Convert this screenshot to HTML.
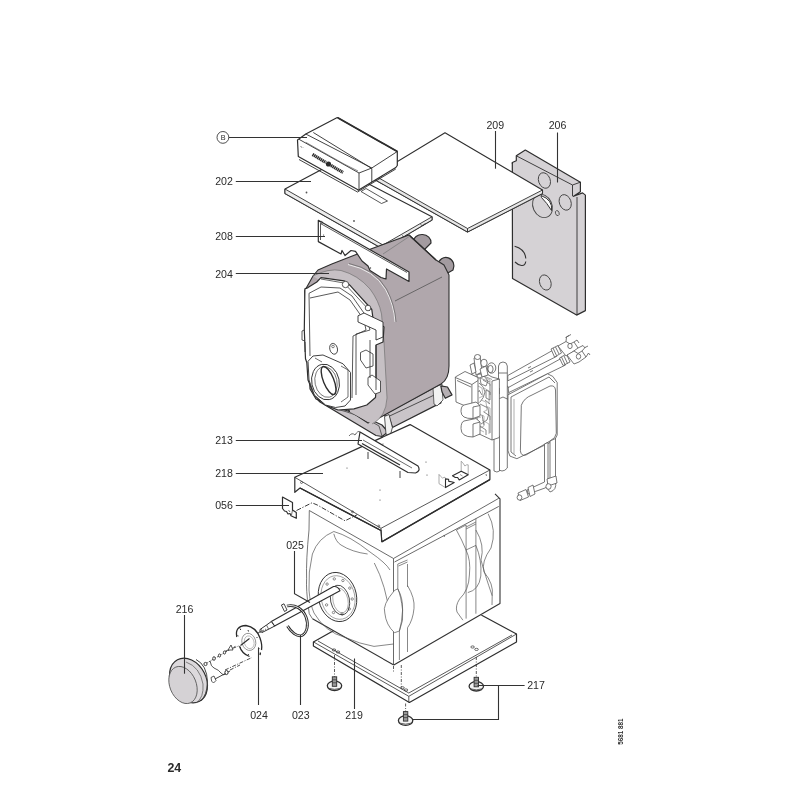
<!DOCTYPE html>
<html><head><meta charset="utf-8">
<style>
html,body{margin:0;padding:0;background:#fff;width:800px;height:800px;overflow:hidden}
svg{position:absolute;left:0;top:0;will-change:transform}
text{font-family:"Liberation Sans",sans-serif}
</style></head><body>
<svg width="800" height="800" viewBox="0 0 800 800">
<g id="p206" stroke="#2e2e2e" stroke-width="1.2" stroke-linejoin="round">
<path fill="#d5d2d5" d="M512.3 162.5L516.3 160.8L516.3 155.8L525.3 150.1L580.4 182.2L580.4 191.8L573.6 196.3L582.6 192.9L585.4 195.1L585.4 310.6L576.6 315.1L512.5 278.4Z"/>
<path fill="none" stroke-width="0.9" d="M516.3 155.8L572.5 185L580.4 182.2M572.5 185V196.3M577 197V315M512.3 162.5L512.3 164"/>
<ellipse cx="544.4" cy="180.5" rx="5.8" ry="8" fill="none" stroke="#444" stroke-width="0.9" transform="rotate(-20 544.4 180.5)"/>
<ellipse cx="565.2" cy="202.4" rx="5.8" ry="8" fill="none" stroke="#444" stroke-width="0.9" transform="rotate(-20 565.2 202.4)"/>
<ellipse cx="557.3" cy="213.1" rx="1.8" ry="2.6" fill="none" stroke="#444" stroke-width="0.8" transform="rotate(-20 557.3 213.1)"/>
<ellipse cx="542.5" cy="206" rx="9.5" ry="12" fill="none" stroke="#444" stroke-width="0.9" transform="rotate(-25 542.5 206)"/>
<path fill="#fff" stroke="#333" stroke-width="1" d="M541 195.5Q553 200 551.5 210.5Q547 203 541.5 197.5Z"/>
<path fill="none" stroke="#333" stroke-width="1.1" d="M514.6 246.2Q525 249 525.8 258.5M525.8 261.5Q525 266 521.5 265.5Q518 265 515 262"/>
<ellipse cx="545.3" cy="282.5" rx="5.6" ry="7.8" fill="none" stroke="#444" stroke-width="0.9" transform="rotate(-20 545.3 282.5)"/>
</g>
<g id="p209" stroke="#2e2e2e" stroke-width="1.1" stroke-linejoin="round">
<path fill="#fff" d="M445 132.8L542.5 190L542.5 193.5L467.5 232L371 177.5Z"/>
<path fill="#e6e6e6" stroke-width="0.9" d="M371 173.5L467.5 228.5L467.5 232L371 177.5Z"/>
<path fill="#e6e6e6" stroke-width="0.9" d="M467.5 228.5L542.5 190L542.5 193.5L467.5 232Z"/>
</g>
<g id="p202" stroke="#2e2e2e" stroke-width="1.2" stroke-linejoin="round">
<path fill="#fff" d="M285 189L331 164.5L432 216.8L432 220L387 246.5L383 249L285 193.5Z"/>
<path fill="#ececec" stroke-width="0.9" d="M285 189L383 245L383 249L285 193.5Z"/>
<path fill="#ececec" stroke-width="0.9" d="M383 245L432 216.8L432 220L383 249Z"/>
<path fill="#fff" stroke-width="0.8" d="M361 191.5L366 188.5L387.5 201L381.5 203.5Z"/>
<path fill="none" stroke-width="0.8" d="M420.5 224.5Q423 227 425.5 223M402 235.5Q404.5 238.5 407 234.5"/>
<circle cx="306.5" cy="192.5" r="0.9" fill="#555" stroke="none"/>
<circle cx="354" cy="221" r="0.9" fill="#555" stroke="none"/>
</g>
<g id="boxB" stroke="#2e2e2e" stroke-width="1.2" stroke-linejoin="round">
<path fill="#fff" d="M297.5 140L305.8 134L337.3 117.5L397.3 151.5L397.3 165.5L395.8 167.5L358.3 190.3L357.5 189.5L298.3 156.5Z"/>
<path fill="none" stroke-width="0.9" d="M305.8 134L371.8 168L397.3 151.5M299 139.3L359 173L371.8 168M359 173V189.5M371.8 168.5V182M313.3 132.5L371.8 168.5M299 159.5L357.5 192M357.5 192L395.8 169"/>
<path fill="none" stroke-width="1.8" d="M337.8 117.8L397.3 151.5"/>
<path fill="none" stroke="#555" stroke-width="0.7" d="M305.8 142.3L344 164M344 164L358 171"/>
<path fill="none" stroke="#2a2a2a" stroke-width="3.2" stroke-dasharray="1.4 0.5" d="M312.5 154.5L326 162.5"/>
<path fill="none" stroke="#2a2a2a" stroke-width="3.2" stroke-dasharray="1.4 0.5" d="M331 165.5L343 172.5"/>
<circle cx="328.5" cy="164" r="2.6" fill="#2a2a2a" stroke="none"/>
<path fill="none" stroke="#444" stroke-width="0.7" d="M300.5 146.5L302 147.3M303 147.5L303.5 148"/>
</g>
<g id="hex" stroke="#2e2e2e" stroke-width="1.2" stroke-linejoin="round">
<path fill="#c9c4c8" stroke-width="1.2" d="M316 398L328 405L348 411L367 418L382 425L388 432L382 436.5L376 435.5L320 402Z"/>
<path fill="none" stroke-width="0.7" d="M328 406.5L347 412L367 419L379 426L382 436"/>
<path fill="#c9c4c8" stroke-width="1.3" d="M383 415L441 384L443 393L440.8 402.8L392.4 427.5L389 417Z"/>
<path fill="none" stroke-width="0.8" d="M389 416.3L437.5 393.5"/>
<path fill="#f2f2f2" stroke-width="0.8" d="M384.5 416.5L389 414.5L392.4 427.5L390 436.5L386 434Z"/>
<path fill="#f2f2f2" stroke-width="0.7" d="M433 388L442 384L443 400L437 406L434 404Z"/>
<path fill="#b5afb3" stroke-width="1.2" d="M440.8 385.9L447.5 387L452 394.9L445.3 398.3L442 392Z"/>
<path fill="#a39ba0" d="M413 242A9 8 0 1 1 431 243L424 250Z"/>
<path fill="#a39ba0" d="M438 265A8 8.5 0 1 1 453 270L446 274Z"/>
<path fill="#b0a7ac" stroke-width="1.1" d="M304.6 291L313 276L318 270L331.8 264L360 253L409 235L436 260L444 265L449 275L449 366Q449 379 441 384L380 417.5L368 423L348 410L316 399L310 389Z"/>

<path fill="none" stroke-width="1.3" d="M409 235L436 260"/>
<path fill="#c6c0c4" stroke="none" d="M313 276Q329 268 341 270.5Q358 275 370 289Q379 301 381.5 314L384 342L387 398Q386 417 372 424L350 412L350 300Z"/>
<path fill="none" stroke="#777" stroke-width="0.7" d="M383 254L410 236"/>
<path fill="none" stroke="#555" stroke-width="0.8" d="M395 301L442 277"/>
<path fill="none" stroke="#666" stroke-width="0.6" d="M313 276Q329 268 341 270.5Q358 275 370 289Q379 301 381.5 314L384 342L387 398Q386 417 372 424"/>
<path fill="none" stroke="#f0f0f0" stroke-width="0.9" d="M348 264.5Q374 270 385.5 289.5Q394 305 395 322"/>
<path fill="none" stroke="#555" stroke-width="0.6" d="M349 263.5Q375 269 386.5 289Q395 305 396 322"/>
</g>
<g id="door" stroke="#2e2e2e" stroke-width="1.2" stroke-linejoin="round">
<path fill="#fff" d="M304.9 288.9L308 287.6L316.8 282L321 277.6L344 280.8L350.5 285.8L371.8 309.5L373 318.3L384 327L383 342L376 345L376 390L375.5 397.5L366.8 405L354 408.8L338 410L325.5 405L314.3 395L308 380L306.8 362.5L305.5 358.8L304.3 330Z"/>
<path fill="none" stroke-width="0.8" d="M309 293.3L321 287L340 288L352 296L366 316L370 330L356 334L356 395M309 293.3L310 356M310 298L338 292L350 300L364 320L366 330L353 336L352 398"/>
<path fill="none" stroke="#444" stroke-width="0.8" d="M321 279L344 283L370 311"/>
<circle cx="345.5" cy="284.5" r="3.2" fill="#fff" stroke-width="0.8"/>
<circle cx="368" cy="308" r="2.8" fill="#fff" stroke-width="0.8"/>
<path fill="#fff" stroke-width="0.9" d="M358 315.8L364 313L383 322L383 337L376 340L376 330L358 322Z"/>
<path fill="#fff" stroke-width="0.8" d="M360.5 352.5L366 350L373 354L373 366L366 368L360.5 360Z"/>
<path fill="#fff" stroke-width="0.8" d="M368 377.5L372 375L380.5 381L380.5 392L375 394L368 385Z"/>
<path fill="none" stroke-width="0.8" d="M376 345L376 390M370 340L370 378M304.3 330L302 331V340L305 341M305 342V352"/>
<path fill="#fff" stroke-width="0.9" d="M308 361.3L313 356L323 355L343 363.8L350.5 372.5L350.5 400L345 406L335.5 407.5L325.5 405L314.3 395L309 380Z"/>
<ellipse cx="325.5" cy="382" rx="13.75" ry="18" fill="#fff" stroke-width="0.9" transform="rotate(-12 325.5 382)"/>
<ellipse cx="326" cy="382" rx="11" ry="15.5" fill="none" stroke-width="0.6" transform="rotate(-12 326 382)"/>
<ellipse cx="328.6" cy="380.5" rx="5.2" ry="15" fill="none" stroke-width="1.4" transform="rotate(-22 328.6 380.5)"/>
<path fill="none" stroke-width="0.7" d="M341 366L348 370L348 397L341 402M315 358L322 362"/>
<ellipse cx="333.6" cy="348.8" rx="3.8" ry="5.5" fill="#fff" stroke-width="0.8" transform="rotate(-15 333.6 348.8)"/>
<circle cx="333" cy="346.5" r="1.3" fill="none" stroke-width="0.6"/>
</g>
<g id="p208" stroke="#2e2e2e" stroke-width="1.2" stroke-linejoin="round">
<path fill="#fff" d="M318.3 220.3L409 271.9L409 281.5L386.5 269L386 279L381 277.5L370 270.5L368 266L362 261L355.5 251.3L351 250.5L345 255.5L342 250.5L341 254L318.3 241.6Z"/>
<path fill="none" stroke-width="0.8" d="M320.5 223.5L407 272.5M320.5 223.5V240"/>
<circle cx="321.5" cy="222.5" r="1.1" fill="none" stroke-width="0.6"/>
<circle cx="323.6" cy="235" r="0.6" fill="#444" stroke="none"/>
<circle cx="370.5" cy="268" r="0.7" fill="#444" stroke="none"/>
</g>
<g id="hydro" stroke="#555" stroke-width="0.8" fill="#fff" stroke-linejoin="round">
<path d="M507.8 375.5L553.3 350L556.8 356.3L507.8 380.8Z"/>
<path d="M507.8 387.8L562 358L565.6 365L507.8 393Z"/>
<path d="M500.8 389.5L507.8 386L509.5 398.3L502 401Z"/>
<path fill="none" d="M528 368L531 366.5M530 372L533 370.5"/>
<path d="M551 349L558 345.5L561.5 353L554.5 357Z"/>
<path fill="none" d="M553 348L556.5 355.5M555.5 347L559 354"/>
<path d="M559.5 358L566.5 354L570 362L563 365.5Z"/>
<path fill="none" d="M561.5 357L565 364.5M564 356L567.5 363.5"/>
<path d="M558 346L566 341.5L570 344L574 342L578 348L571 353L566 356Z"/>
<path d="M567 355L574 351L578 353.5L582 351L586 357L579 362L574 364Z"/>
<path fill="none" d="M566 341.5L566.5 337L569 335.5M565.5 337.5L571 334.5M574 342L577 340L579 343M578 348L583 345.5L585 348M582 351L585 347.5L588 346M586 357L588.5 353L590 355"/>
<ellipse cx="570" cy="346" rx="2.2" ry="2.6"/>
<ellipse cx="578.5" cy="356.5" rx="2.2" ry="2.6"/>
<path d="M498.5 366Q499 362 503 362Q507 362 507.3 366L507.3 468Q505 471 502 471Q499 471 498.5 468Z"/>
<path fill="none" d="M498.5 373H507.3M498.5 399L503 397L507.3 399M499.5 388V394"/>
<path d="M494 437L499.5 436L499.5 471Q497 473 494 471Z"/>
<path d="M477 375L483 372L492 377L499.4 379L499.4 437.5L492 440L477 433Z"/>
<path fill="none" d="M492 381V440M492 381L499.4 379"/>
<path fill="none" stroke="#666" stroke-width="0.8" d="M480 378L484 376L488 381L486 386L481 384ZM486 390L490 392L490 400L486 398ZM479 383Q484 386 485 392Q484 398 480 402M483 380L490 384L490 395M480 404L488 408Q490 414 487 420L481 424M484 412L490 416V433M480 426L486 430L486 435M479 390L482 395M485 400L490 404M482 415L484 425"/>
<path fill="none" stroke="#888" stroke-width="0.6" d="M478 386L482 388L483 396L479 398M481 400L486 402L487 410L483 412M479 414L484 416V426L480 428M484 388L489 391V404M486 406L490 408V420M482 420L489 424V434M477 392L480 391M477 404L480 402M477 418L481 417M480 430L484 432M486 378L490 380L490 386M483 376L478 379"/>
<path fill="none" stroke="#777" stroke-width="0.7" d="M470 374L490 382M472 371L492 379.5"/>
<path d="M474 358L480 355.5L482 372L476 375Z"/>
<ellipse cx="477.5" cy="357" rx="3" ry="2.5"/>
<path d="M470 365L474 363L476 372L472 374Z"/>
<ellipse cx="484" cy="363" rx="3.2" ry="3.8"/>
<ellipse cx="491.5" cy="368" rx="4.3" ry="5.2"/>
<ellipse cx="490.5" cy="369" rx="2.6" ry="3.6" fill="none"/>
<path d="M480 369L486 366L488 375L482 377Z"/>
<path d="M455.3 377L465 371.5L478 377.5L478 405.5L471.9 408.8L456 402Z"/>
<path fill="none" d="M455.3 377.5L471.9 384.5L478 380.5M471.9 384.5V408.8M457 380.5L471 387"/>
<path d="M464 405L476 402L480 405.5L480 416L473 418.5Q461 419 461 411.5Q461 406 464 405Z"/>
<path fill="none" d="M473 407V418.5M473 407L480 405.5"/>
<path d="M464 421L476 418.5L480 422L480 434L473 437Q461 437 461 428.5Q461 422 464 421Z"/>
<path fill="none" d="M473 424V437M473 424L480 422"/>
<path d="M508 394.8L547.5 373.8L552.8 376.4L557.2 382.5L557.2 435L554.5 440.3L516.9 458.7L509.9 456.1L508 450.8Z"/>
<path fill="none" d="M511 397L549 377L555 383M511 397V452L516 456M521.3 405.3Q524 398 532 395L550 386Q555 385 555.5 390L556.3 433.3Q556 438 550 441L526 455Q521 456.5 520.4 450.8Z"/>
<path fill="none" stroke="#777" stroke-width="0.6" d="M514 399L514 454"/>
<path d="M544.5 444L548 442.5V486L545 488Q534 492 528 494L527 490L544.5 482Z"/>
<path d="M550 441L555.5 438.5V482Q557 490 550 492L547 488Q550 485 550 482Z"/>
<path d="M528 487.5L533 485L535 494L530 496.5Z"/>
<path d="M518 493L526 489.5L528.5 497L520 500.5Z"/>
<ellipse cx="519.5" cy="497.5" rx="2.4" ry="2.6"/>
<path d="M547 479L556 476L557 483L548 486Z"/>
<ellipse cx="548.5" cy="486.5" rx="2.6" ry="2.8"/>
</g>
<g id="body" stroke="#2e2e2e" stroke-width="1.2" stroke-linejoin="round">
<path fill="#fff" d="M313.4 641.9L420 582L516.5 634L516.5 642L409.4 702.5L313.4 646Z"/>
<path fill="none" stroke-width="0.8" d="M313.4 641.9L408.8 696.3L516.5 634M408.8 696.3V702.5M318 641L408.8 693M408.8 693L512 635"/>
<ellipse cx="334" cy="650" rx="1.8" ry="1.1" fill="none" stroke-width="0.7"/>
<ellipse cx="338" cy="652" rx="1.8" ry="1.1" fill="none" stroke-width="0.7"/>
<ellipse cx="472.6" cy="647" rx="1.8" ry="1.1" fill="none" stroke-width="0.7"/>
<ellipse cx="476.5" cy="649.4" rx="1.8" ry="1.1" fill="none" stroke-width="0.7"/>
<ellipse cx="402.5" cy="687.8" rx="1.8" ry="1.1" fill="none" stroke-width="0.7"/>
<ellipse cx="406" cy="690" rx="1.8" ry="1.1" fill="none" stroke-width="0.7"/>
<path fill="#fff" stroke="none" d="M309.3 510.5L370 476L495 493.8L500 498.8L500 604L395 667.5L393.8 665L312.5 618.8Q308 614 308.5 608Q306 590 306.6 578.8Q306 560 309 530Z"/>
<path fill="none" stroke="#333" stroke-width="1.1" d="M393.8 665L500 603.5V498.8L495 493.8M312.5 618.8L393.8 665"/>
<path fill="none" stroke="#555" stroke-width="0.8" d="M309.3 510.5L309 530Q306 560 306.6 578.8Q306 590 308.5 608Q308 614 312.5 618.8"/>
<path fill="none" stroke="#444" stroke-width="0.8" d="M309.3 510.5L393.5 558.5L498.8 498.3M394.5 562L498.8 506.4M393.5 558.5V665"/>
<path fill="none" stroke="#555" stroke-width="0.7" d="M333.8 531.5Q318 538 312.4 554Q308 572 309 590Q310 604 314 613Q325 632 345 637.4Q360 644 374 646.4L393.5 644M333.8 531.5Q350 536 370 552Q386 563 390 570M333.8 533.8Q336 542 341 545Q352 552 367.6 554M374.3 563Q386 585 390 617"/>
<path fill="#fff" stroke="#555" stroke-width="0.7" d="M394.5 590.4Q382 605 384.8 613Q386 625 394.5 632.7L399.4 631Q404 620 402.6 610Q401 596 397.8 588.8Z"/>
<path fill="none" stroke="#555" stroke-width="0.7" d="M397.8 588.8Q403 598 402.6 610Q402 622 399.4 631M407.5 585.5Q415 598 414 608.3Q413 620 407.5 627.8M397.8 564V588.8M407.5 564V587M399.4 631V660M407.5 627.8V652M397.8 564L407.5 560M398.5 566L407.5 562"/>
<path fill="none" stroke="#555" stroke-width="0.7" d="M456.4 530Q462 540 466 550Q471 560 469.4 575Q469 590 459.6 599Q455 606 457 612L462.9 620.2M466.1 525V618.6M475.9 518.6V613.7M456.4 530L466.1 525M466.1 527L475.9 522M466.1 529L475.9 524M466 550L475.9 545.4M475.9 545.4Q482 560 480.8 576Q479 590 467.8 592.6M488.1 513.7Q497 530 491 548Q481 562 484 572Q494 584 492.2 595.8L492 605M475.9 530Q485 545 481 560Q485 575 492.2 595.8"/>
<ellipse cx="337.5" cy="597" rx="19" ry="24.8" fill="#fff" stroke-width="0.9" transform="rotate(-12 337.5 597)"/>
<ellipse cx="338" cy="597.5" rx="16.8" ry="22" fill="none" stroke="#555" stroke-width="0.5" transform="rotate(-12 338 597.5)"/>
<circle cx="352.2" cy="599.0" r="1.2" fill="#fff" stroke="#444" stroke-width="0.6"/>
<circle cx="349.3" cy="608.9" r="1.2" fill="#fff" stroke="#444" stroke-width="0.6"/>
<circle cx="342.1" cy="614.1" r="1.2" fill="#fff" stroke="#444" stroke-width="0.6"/>
<circle cx="333.5" cy="612.5" r="1.2" fill="#fff" stroke="#444" stroke-width="0.6"/>
<circle cx="326.6" cy="604.9" r="1.2" fill="#fff" stroke="#444" stroke-width="0.6"/>
<circle cx="324.2" cy="594.0" r="1.2" fill="#fff" stroke="#444" stroke-width="0.6"/>
<circle cx="327.1" cy="584.1" r="1.2" fill="#fff" stroke="#444" stroke-width="0.6"/>
<circle cx="334.3" cy="578.9" r="1.2" fill="#fff" stroke="#444" stroke-width="0.6"/>
<circle cx="342.9" cy="580.5" r="1.2" fill="#fff" stroke="#444" stroke-width="0.6"/>
<circle cx="349.8" cy="588.1" r="1.2" fill="#fff" stroke="#444" stroke-width="0.6"/>
<ellipse cx="340" cy="600" rx="9.4" ry="15" fill="none" stroke-width="0.8" transform="rotate(-12 340 600)"/>
<ellipse cx="340.5" cy="600.5" rx="7.5" ry="12.5" fill="none" stroke="#666" stroke-width="0.5" transform="rotate(-12 340.5 600.5)"/>
</g>
<g id="p218" stroke="#2e2e2e" stroke-width="1.2" stroke-linejoin="round">
<path fill="#fff" d="M294.8 477.3L410.1 424.6L489.9 470L489.9 479.6L381.8 541.8L381 530.5L300 488L294.8 492.3Z"/>
<path fill="none" stroke-width="0.8" d="M294.8 477.3L381 528.3L489.9 470M381 528.3L381.8 541.8"/>
<path fill="none" stroke-width="1.4" d="M300 488L381 530.5M381.8 541.8L489.9 479.6"/>
<circle cx="301.5" cy="482.5" r="1" fill="none" stroke-width="0.6"/>
<circle cx="352.5" cy="511.8" r="1" fill="none" stroke-width="0.6"/>
<circle cx="378.8" cy="526" r="1" fill="none" stroke-width="0.6"/>
<path fill="none" stroke-width="0.6" d="M444 535L444.5 537M486 474L486.5 476"/>
<path fill="#fff" stroke="#888" stroke-width="0.7" d="M439 474.4L440.7 476.4L442.4 478L444.9 477.2L445.5 478.6L445.5 487.6L439 483.7Z"/>
<path fill="#fff" stroke-width="1.1" d="M445.5 478.9L448.6 479.2L448.8 481.4L451.4 481.7L454.2 482.6L445.5 487.6Z"/>
<path fill="#fff" stroke="#888" stroke-width="0.7" d="M461.2 461.2L463.2 463.4L464.9 466L466.6 464.8L468.2 464.8L468.2 474.4L461.2 471.3Z"/>
<path fill="#fff" stroke-width="1.1" d="M452.5 475.8L461.2 471.3L468.2 474.7L459.2 480L457.6 477.5L455.3 477.5Z"/>
<path fill="none" stroke="#555" stroke-width="0.6" d="M460 474.5L462.5 476"/>
<circle cx="383" cy="444" r="0.6" fill="#444" stroke="none"/>
<circle cx="380" cy="490" r="0.6" fill="#444" stroke="none"/>
<circle cx="426" cy="462" r="0.6" fill="#444" stroke="none"/>
<circle cx="347" cy="468" r="0.6" fill="#444" stroke="none"/>
<circle cx="380" cy="500" r="0.6" fill="#444" stroke="none"/>
<circle cx="427" cy="475" r="0.6" fill="#444" stroke="none"/>
</g>
<g id="p213" stroke="#2e2e2e" stroke-width="1.2" stroke-linejoin="round">
<path fill="#fff" d="M360 432L418 466Q421 471 415.5 473L408 472.5L358 444Z"/>
<path fill="none" stroke-width="1.3" d="M362 443.5L400 465"/>
<path fill="none" stroke-width="0.7" d="M363 440L412 468M349 436Q352 432 355 435Q358 430 360 432"/>
<path fill="none" stroke-width="0.9" d="M368 452V459M400 471V478"/>
</g>
<g id="p056" stroke="#2e2e2e" stroke-width="1.2" stroke-linejoin="round">
<path fill="#fff" d="M282.5 497L292.5 502.5L292.5 510L296.3 512.5L296.3 518.3L291 515.8L290 513.5L288 514L286.5 511.5L284.5 511L282.5 508.5Z"/>
<path fill="none" stroke-width="0.7" d="M292.5 510L291.5 515M288.5 510L290 512"/>
<path fill="none" stroke="#3a3a3a" stroke-width="1" stroke-dasharray="5 1.6 1.2 1.6" d="M296.5 510.5L312 502.8L317.3 505L345 520.8L357 514.8"/>
</g>
<g id="feet" stroke="#2e2e2e" stroke-width="1.2">
<path fill="none" stroke="#333" stroke-width="0.8" stroke-dasharray="3 1.5 1 1.5" d="M401.3 665V687.5M393.5 666V672"/>
<path fill="none" stroke="#333" stroke-width="0.8" stroke-dasharray="3 1.5 1 1.5" d="M334.5 655V676.8"/>
<ellipse cx="334.5" cy="685.8" rx="7.2" ry="4.7" fill="#f4f4f4" stroke-width="1.3"/>
<path fill="none" stroke="#555" stroke-width="0.9" d="M329.0 688.4Q334.5 690.3 340.0 688.4"/>
<rect x="332.3" y="676.8" width="4.4" height="9.5" fill="#9a9a9a" stroke-width="0.9"/>
<path fill="none" stroke="#333" stroke-width="0.7" d="M332.3 679.8H336.7M332.3 682.8H336.7"/>
<path fill="none" stroke="#333" stroke-width="0.8" stroke-dasharray="3 1.5 1 1.5" d="M476.3 657V677.3"/>
<ellipse cx="476.3" cy="686.3" rx="7.2" ry="4.7" fill="#f4f4f4" stroke-width="1.3"/>
<path fill="none" stroke="#555" stroke-width="0.9" d="M470.8 688.9Q476.3 690.8 481.8 688.9"/>
<rect x="474.1" y="677.3" width="4.4" height="9.5" fill="#9a9a9a" stroke-width="0.9"/>
<path fill="none" stroke="#333" stroke-width="0.7" d="M474.1 680.3H478.5M474.1 683.3H478.5"/>
<path fill="none" stroke="#333" stroke-width="0.8" stroke-dasharray="3 1.5 1 1.5" d="M405.6 703.5V711.6"/>
<ellipse cx="405.6" cy="720.6" rx="7.2" ry="4.7" fill="#f4f4f4" stroke-width="1.3"/>
<path fill="none" stroke="#555" stroke-width="0.9" d="M400.1 723.2Q405.6 725.1 411.1 723.2"/>
<rect x="403.40000000000003" y="711.6" width="4.4" height="9.5" fill="#9a9a9a" stroke-width="0.9"/>
<path fill="none" stroke="#333" stroke-width="0.7" d="M403.40000000000003 714.6H407.8M403.40000000000003 717.6H407.8"/>
</g>
<g id="burner" stroke="#2e2e2e" stroke-width="1.2" stroke-linejoin="round">
<path fill="#fff" stroke-width="1.1" d="M333.5 586.5Q338 586 340 590.7L274.6 626.1L271.3 621.6Z"/>
<path fill="#fff" stroke-width="1" d="M271.3 621.6L274.6 626.1L268 629.5L262 632.5L260 629.5L266.5 625Z"/>
<path fill="none" stroke-width="0.7" d="M266.5 625L268.5 629"/>
<circle cx="261" cy="631" r="1.3" fill="#fff" stroke-width="0.8"/>
<path fill="#fff" stroke-width="0.9" d="M281.4 605L284 603.8L287 610L284.5 611.5Z"/>
<path fill="none" stroke="#2a2a2a" stroke-width="2.8" d="M287 606C295 604 303 609 306 617C309 625 307 633 302 635.5C297 637 291 632 287.5 626"/>
<path fill="none" stroke="#fff" stroke-width="0.9" d="M287 606C295 604 303 609 306 617C309 625 307 633 302 635.5C297 637 291 632 287.5 626"/>
<path fill="#fff" stroke="none" d="M248 625.5Q260 628 262 645Q262.5 656 255 657Q240 653 235.5 636Q235 625 248 625.5Z"/>
<path fill="none" stroke="#2a2a2a" stroke-width="1.3" d="M236.8 637Q234.5 626 246 625.5Q256 627 260 638Q262.5 645 261.5 650M260.5 652.5L260 655M239.5 646.3Q242 654 249.5 656.5"/>
<path fill="none" stroke="#333" stroke-width="1" d="M240 628.5L240.8 630M248 630L248.5 631.5M256.5 637L257.5 638M258.5 648L259.5 648.6M237.5 635.5L238.5 636M240 647L241 648M248 654L248.8 655"/>
<ellipse cx="248.8" cy="641.9" rx="6.9" ry="8.7" fill="none" stroke="#777" stroke-width="0.7" transform="rotate(-15 248.8 641.9)"/>
<ellipse cx="249.2" cy="642.3" rx="4.8" ry="6.5" fill="none" stroke="#999" stroke-width="0.6" transform="rotate(-15 249.2 642.3)"/>
<path fill="none" stroke="#2e2e2e" stroke-width="1.1" d="M240.5 645.5L249.5 638.5"/>
<path fill="none" stroke="#3a3a3a" stroke-width="0.9" stroke-dasharray="4 1.5 1 1.5" d="M225 651.3L240 645.5M258 633L266 629M225 670L252 657.5"/>
<path fill="none" stroke="#444" stroke-width="0.9" stroke-dasharray="2 1.2" d="M206 663.5L236 646"/>
<circle cx="205.5" cy="664" r="1.6" fill="#fff" stroke-width="0.9"/>
<ellipse cx="214" cy="658.5" rx="1.3" ry="1.8" fill="#fff" stroke-width="0.9"/>
<ellipse cx="219.5" cy="655.5" rx="1.1" ry="1.6" fill="#fff" stroke-width="0.9"/>
<ellipse cx="224.5" cy="652.5" rx="1.1" ry="1.6" fill="#fff" stroke-width="0.9"/>
<path fill="#fff" stroke-width="0.8" d="M228 650L231 645L233 650Z"/>
<path fill="none" stroke="#444" stroke-width="0.9" d="M210 661Q211 667 214 668Q219 670 221 673Q223 676 226 674"/>
<path fill="#fff" stroke-width="0.8" d="M211 677.5L214 676L216 680.5L213.5 683Q211 682 211 677.5Z"/>
<path fill="none" stroke-width="0.9" d="M215 679L230 671"/>
<ellipse cx="226.5" cy="672.5" rx="1.6" ry="2.1" fill="#fff" stroke-width="1"/>
<path fill="none" stroke="#3a3a3a" stroke-width="0.9" stroke-dasharray="4 1.5 1 1.5" d="M230 670L240 665"/>
<ellipse cx="188.5" cy="680.5" rx="17.5" ry="23.5" fill="#dcd9dc" stroke-width="1.2" transform="rotate(-28 188.5 680.5)"/>
<ellipse cx="183" cy="685" rx="13.2" ry="19.3" fill="#d5d2d5" stroke="#555" stroke-width="0.8" transform="rotate(-22 183 685)"/>
<path fill="none" stroke="#555" stroke-width="0.7" d="M186 662Q200 667 203 684Q204 698 196 703"/>
<path fill="none" stroke="#444" stroke-width="1" d="M196 659.5Q207 665 207.5 682Q207 695 201 701"/>
</g>
<g id="labels" fill="#2b2b2b" font-size="10.6" text-anchor="middle">
<circle cx="222.9" cy="137.4" r="5.9" fill="none" stroke="#3a3a3a" stroke-width="0.9"/>
<text x="223.2" y="140.1" font-size="7.3">B</text>
<text x="224" y="185.2">202</text>
<text x="224" y="240.2">208</text>
<text x="224" y="277.6">204</text>
<text x="224" y="443.8">213</text>
<text x="224" y="477.4">218</text>
<text x="224" y="508.8">056</text>
<text x="495.3" y="128.8">209</text>
<text x="557.5" y="128.8">206</text>
<text x="295" y="548.8">025</text>
<text x="184.5" y="612.5">216</text>
<text x="259" y="718.8">024</text>
<text x="300.8" y="718.8">023</text>
<text x="354" y="718.6">219</text>
<text x="536" y="688.8">217</text>
<text x="174.3" y="772.3" font-size="12.4" font-weight="bold">24</text>
<text x="0" y="0" font-size="7.2" font-weight="bold" text-anchor="middle" transform="translate(623.3,731.6) rotate(-90)" textLength="26.5" lengthAdjust="spacingAndGlyphs">5681 881</text>
</g>
<g id="leaders" stroke="#333" stroke-width="1.1" fill="none">
<path d="M228.8 137.5H307"/>
<path d="M235.8 181.5H311"/>
<path d="M235.8 236.5H325"/>
<path d="M235.8 273.5H329"/>
<path d="M235.8 440.5H362"/>
<path d="M235.8 473.5H323"/>
<path d="M235.8 505.5H289"/>
<path d="M495.5 131V168.7"/>
<path d="M557.5 132.5V182.5"/>
<path d="M294.5 551V593.7L310 602.5"/>
<path d="M184.5 615V673.7"/>
<path d="M258.5 647.5V705"/>
<path d="M300.5 635V705"/>
<path d="M354.5 658.5V709"/>
<path d="M524.6 685.5H477.5M498.5 685.5V719.5H412.5"/>
</g>
</svg>
</body></html>
